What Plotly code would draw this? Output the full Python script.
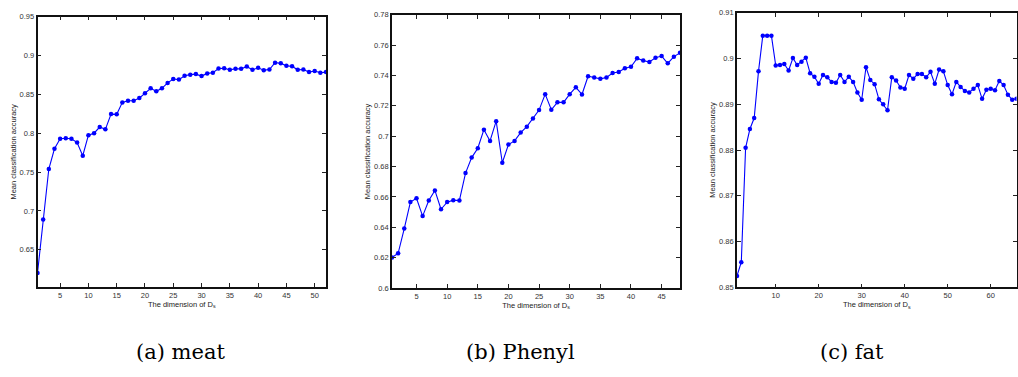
import plotly.graph_objects as go

# ---- data ----
meat_x = list(range(1, 53))
meat_acc = [0.620, 0.689, 0.754, 0.780, 0.793, 0.7935, 0.793, 0.788, 0.771, 0.7975,
            0.800, 0.808, 0.805, 0.8246, 0.8243, 0.8397, 0.8418, 0.8418, 0.8452, 0.8515,
            0.8578, 0.854, 0.8578, 0.8648, 0.8698, 0.869, 0.874, 0.8754, 0.8761, 0.8736,
            0.877, 0.8779, 0.8833, 0.8837, 0.8816, 0.8829, 0.8829, 0.8858, 0.8816, 0.8842,
            0.8812, 0.882, 0.8908, 0.890, 0.8867, 0.8862, 0.8816, 0.882, 0.8787, 0.880,
            0.8779, 0.8787]

phenyl_x = list(range(1, 49))
phenyl_acc = [0.6201, 0.6229, 0.6392, 0.6566, 0.6591, 0.6474, 0.6577, 0.6643, 0.6519, 0.6566,
              0.6579, 0.6577, 0.6757, 0.6859, 0.6921, 0.7043, 0.6969, 0.7099, 0.6825, 0.6945,
              0.6969, 0.7024, 0.7063, 0.7117, 0.7172, 0.7277, 0.7174, 0.7223, 0.7223, 0.7277,
              0.7322, 0.7275, 0.7395, 0.7387, 0.7378, 0.7387, 0.7416, 0.7423, 0.7448, 0.7457,
              0.7513, 0.7498, 0.7489, 0.7517, 0.7528, 0.7480, 0.7524, 0.7549]

fat_x = list(range(1, 67))
fat_acc = [0.8525, 0.8555, 0.8805, 0.8846, 0.8870, 0.8972, 0.9050, 0.9050, 0.9050, 0.8985,
           0.8986, 0.8988, 0.8974, 0.9001, 0.8986, 0.8993, 0.9002, 0.8968, 0.8960, 0.8945,
           0.8964, 0.8959, 0.8949, 0.8947, 0.8964, 0.8949, 0.8960, 0.8949, 0.8926, 0.8910,
           0.8981, 0.8953, 0.8944, 0.8911, 0.8900, 0.8887, 0.8959, 0.8952, 0.8937, 0.8934,
           0.8964, 0.8956, 0.8966, 0.8966, 0.8959, 0.8971, 0.8945, 0.8976, 0.8972, 0.8942,
           0.8922, 0.8949, 0.8938, 0.8929, 0.8926, 0.8934, 0.8942, 0.8912, 0.8932, 0.8934,
           0.8931, 0.8951, 0.8942, 0.8921, 0.8910, 0.8912]

meat_xticks = [5, 10, 15, 20, 25, 30, 35, 40, 45, 50]
meat_yticks = [0.65, 0.7, 0.75, 0.8, 0.85, 0.9, 0.95]
meat_yticktext = ["0.65", "0.7", "0.75", "0.8", "0.85", "0.9", "0.95"]

phenyl_xticks = [5, 10, 15, 20, 25, 30, 35, 40, 45]
phenyl_yticks = [0.6, 0.62, 0.64, 0.66, 0.68, 0.7, 0.72, 0.74, 0.76, 0.78]
phenyl_yticktext = ["0.6", "0.62", "0.64", "0.66", "0.68", "0.7", "0.72", "0.74", "0.76", "0.78"]

fat_xticks = [10, 20, 30, 40, 50, 60]
fat_yticks = [0.85, 0.86, 0.87, 0.88, 0.89, 0.9, 0.91]
fat_yticktext = ["0.85", "0.86", "0.87", "0.88", "0.89", "0.9", "0.91"]

captions = ["(a) meat", "(b) Phenyl", "(c) fat"]
x_title = "The dimension of D<sub>s</sub>"
y_title = "Mean classification accuracy"

# ---- figure ----
W, H = 1018, 377
fig = go.Figure()

line_style = dict(color="#0000FF", width=1.1)
marker_style = dict(color="#0000FF", size=4.5, symbol="circle")

for i, (xs, ys) in enumerate([(meat_x, meat_acc), (phenyl_x, phenyl_acc), (fat_x, fat_acc)]):
    suffix = "" if i == 0 else str(i + 1)
    fig.add_trace(go.Scatter(x=xs, y=ys, mode="lines+markers", line=line_style,
                             marker=marker_style, xaxis="x" + suffix, yaxis="y" + suffix,
                             showlegend=False))

def px_dom(a, b, total):
    return [a / total, b / total]

def py_dom(top, bottom):
    return [1 - bottom / H, 1 - top / H]

tick_font = dict(family="Liberation Sans, Arial, sans-serif", size=7.5, color="#333333")
title_font = dict(family="Liberation Sans, Arial, sans-serif", size=7.5, color="#222222")

def xaxis(dom, rng, ticks, anchor):
    return dict(domain=dom, range=rng, tickvals=ticks, ticks="inside", ticklen=4,
                tickcolor="#222222", showline=True, linecolor="#111111", linewidth=1.6,
                mirror="ticks", showgrid=False, zeroline=False, tickfont=tick_font,
                title=dict(text=x_title, font=title_font, standoff=2), anchor=anchor)

def yaxis(dom, rng, ticks, text, anchor):
    return dict(domain=dom, range=rng, tickvals=ticks, ticktext=text, ticks="inside",
                ticklen=4, tickcolor="#222222", showline=True, linecolor="#111111",
                linewidth=1.6, mirror="ticks", showgrid=False, zeroline=False,
                tickfont=tick_font, title=dict(text=y_title, font=title_font, standoff=2),
                anchor=anchor)

fig.update_layout(
    width=W, height=H,
    margin=dict(l=0, r=0, t=0, b=0),
    paper_bgcolor="white", plot_bgcolor="white",
    xaxis=xaxis(px_dom(37.5, 326, W), [1, 52], meat_xticks, "y"),
    yaxis=yaxis(py_dom(13, 290), [0.602, 0.95], meat_yticks, meat_yticktext, "x"),
    xaxis2=xaxis(px_dom(392, 680, W), [1, 48], phenyl_xticks, "y2"),
    yaxis2=yaxis(py_dom(11, 291), [0.6, 0.78], phenyl_yticks, phenyl_yticktext, "x2"),
    xaxis3=xaxis(px_dom(737, 1016.5, W), [1, 66], fat_xticks, "y3"),
    yaxis3=yaxis(py_dom(9, 290.3), [0.85, 0.91], fat_yticks, fat_yticktext, "x3"),
)

cap_x = [180, 520, 852]
for cx, txt in zip(cap_x, captions):
    fig.add_annotation(x=cx / W, y=1 - 356 / H, xref="paper", yref="paper", text=txt,
                       showarrow=False, xanchor="center", yanchor="middle",
                       font=dict(family="DejaVu Serif, serif", size=21, color="#000000"))

fig.write_html("out.html")
